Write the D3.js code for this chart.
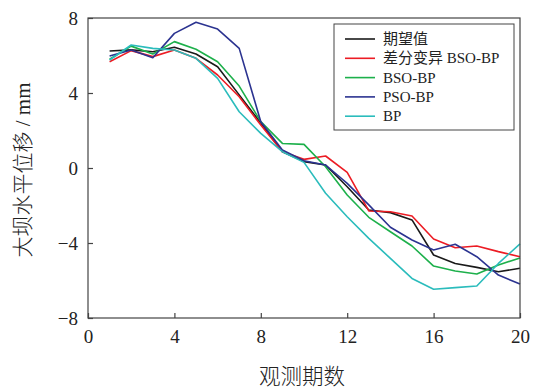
<!DOCTYPE html>
<html><head><meta charset="utf-8">
<script src="https://cdn.jsdelivr.net/npm/d3@7/dist/d3.min.js"></script>
<style>body{margin:0;background:#fff}svg{display:block}</style>
</head><body><svg id="c" width="533" height="388"></svg>
<script>
const periods = d3.range(1, 21);
const expected = [6.24,6.3,6.2,6.44,6.08,5.4,3.9,2.4,0.87,0.34,0.16,-1.0,-2.24,-2.38,-2.77,-4.64,-5.09,-5.3,-5.53,-5.35];
const dmBsoBp  = [5.67,6.26,5.94,6.29,5.85,4.96,3.8,2.29,0.87,0.46,0.64,-0.23,-2.29,-2.33,-2.56,-3.79,-4.25,-4.16,-4.46,-4.73];
const bsoBp    = [5.8,6.5,6.08,6.74,6.33,5.67,4.37,2.47,1.31,1.26,0.07,-1.44,-2.63,-3.4,-4.16,-5.23,-5.49,-5.65,-5.17,-4.8];
const psoBp    = [5.97,6.29,5.88,7.18,7.77,7.41,6.38,2.47,0.96,0.39,0.16,-0.82,-1.97,-3.16,-3.84,-4.37,-4.07,-4.73,-5.71,-6.19];
const bp       = [5.76,6.56,6.38,6.29,5.85,4.78,3.0,1.85,0.87,0.3,-1.35,-2.6,-3.75,-4.82,-5.89,-6.47,-6.38,-6.29,-5.09,-4.05];
const seriesNames = ["期望值","差分变异 BSO-BP","BSO-BP","PSO-BP","BP"];
const seriesColors = ["#1a1a1a","#ec1c24","#1db04b","#2b3390","#2bbcbc"];
const xTicks = [0,4,8,12,16,20];
const yTicks = [-8,-4,0,4,8];
const xTitle = "观测期数";
const yTitle = "大坝水平位移 / mm";

const series = [expected, dmBsoBp, bsoBp, psoBp, bp];
const svg = d3.select("#c");
const L=88, R=520, T=18, B=318;
const x = d3.scaleLinear().domain([0,20]).range([L,R]);
const y = d3.scaleLinear().domain([-8,8]).range([B,T]);
const serif = "'Liberation Serif','Times New Roman','Noto Sans CJK SC',serif";
const cjk = "'Liberation Serif','Noto Sans CJK SC',serif";

const line = d3.line().x((d,i)=>x(periods[i])).y(d=>y(d));
series.forEach((s,k)=>{
  svg.append("path").datum(s).attr("d",line).attr("fill","none")
    .attr("stroke",seriesColors[k]).attr("stroke-width",1.6).attr("stroke-linejoin","round");
});

// frame
svg.append("rect").attr("x",L).attr("y",T).attr("width",R-L).attr("height",B-T)
  .attr("fill","none").attr("stroke","#444").attr("stroke-width",1.2);

const fmt = d=> d<0 ? "\u2212"+Math.abs(d) : String(d);
const xa = svg.append("g").attr("transform",`translate(0,${B})`)
  .call(d3.axisBottom(x).tickValues(xTicks).tickSizeInner(-5).tickSizeOuter(0).tickPadding(12).tickFormat(fmt));
const ya = svg.append("g").attr("transform",`translate(${L},0)`)
  .call(d3.axisLeft(y).tickValues(yTicks).tickSizeInner(-5).tickSizeOuter(0).tickPadding(10).tickFormat(fmt));
[xa,ya].forEach(a=>{
  a.select(".domain").remove();
  a.selectAll(".tick line").attr("stroke","#444").attr("stroke-width",1.2);
  a.selectAll("text").attr("font-family",serif).attr("font-size",19).attr("fill","#222");
});

svg.append("text").attr("x",(L+R)/2 - 2).attr("y",384).attr("text-anchor","middle")
  .attr("font-family",cjk).attr("font-size",21.5).attr("font-weight",300).attr("fill","#222").text(xTitle);
svg.append("text").attr("transform",`translate(30,${(T+B)/2 + 2}) rotate(-90)`).attr("text-anchor","middle")
  .attr("font-family",cjk).attr("font-size",21).attr("font-weight",300).attr("fill","#222").text(yTitle);

// legend
const lg = svg.append("g");
lg.append("rect").attr("x",334).attr("y",24).attr("width",180).attr("height",106)
  .attr("fill","#fff").attr("stroke","#444").attr("stroke-width",1);
seriesNames.forEach((n,k)=>{
  const yy = 39 + k*19.3;
  lg.append("line").attr("x1",345).attr("x2",375).attr("y1",yy).attr("y2",yy)
    .attr("stroke",seriesColors[k]).attr("stroke-width",1.6);
  lg.append("text").attr("x",383).attr("y",yy+5).attr("font-family",cjk).attr("font-size",15)
    .attr("fill","#222").text(n);
});
</script></body></html>
